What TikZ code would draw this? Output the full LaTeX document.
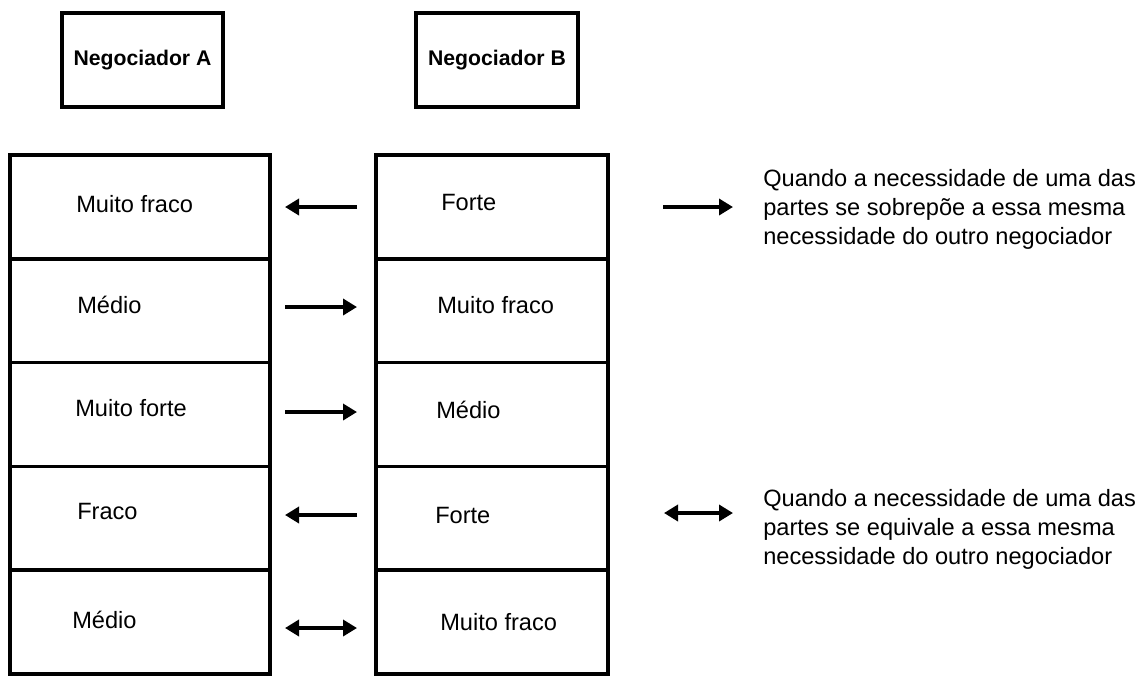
\documentclass[tikz,border=0pt]{standalone}
\usepackage{fontspec}
\setmainfont{Liberation Sans}
\usetikzlibrary{arrows.meta}
\begin{document}
\begin{tikzpicture}[x=0.75pt,y=-0.75pt,
 hdr/.style={draw, line width=2.8pt, minimum width=121pt, minimum height=70.5pt, inner sep=0pt, outer sep=0pt, font=\fontsize{15.9}{19}\selectfont\bfseries},
 cellA/.style={draw, line width=2.6pt, minimum width=195pt, minimum height=77.85pt, inner sep=0pt, outer sep=0pt},
 cellB/.style={cellA, minimum width=174pt},
 lbl/.style={anchor=west, inner sep=0pt, font=\fontsize{17.7}{21}\selectfont},
 note/.style={anchor=north west, inner sep=0pt, align=left, font=\fontsize{17.7}{21.75}\selectfont},
 tip/.tip={Triangle[length=10.5pt,width=12pt]},
 arr/.style={line width=3pt, -tip},
 darr/.style={line width=3pt, tip-tip}]
\useasboundingbox (0,0) rectangle (1137,676);

% headers
\node[hdr] (hA) at (142.5,60) {Negociador A};
\node[hdr] (hB) at (497,60) {Negociador B};

% cells
\node[cellA] (a1) at (140,206.9) {};
\node[cellA] (a2) at (140,310.7) {};
\node[cellA] (a3) at (140,414.5) {};
\node[cellA] (a4) at (140,518.3) {};
\node[cellA] (a5) at (140,622.1) {};
\node[cellB] (b1) at (492,206.9) {};
\node[cellB] (b2) at (492,310.7) {};
\node[cellB] (b3) at (492,414.5) {};
\node[cellB] (b4) at (492,518.3) {};
\node[cellB] (b5) at (492,622.1) {};

% labels
\node[lbl] (ta1) at (76,204) {Muito fraco};
\node[lbl] (ta2) at (77,305) {Médio};
\node[lbl] (ta3) at (75,408) {Muito forte};
\node[lbl] (ta4) at (77,511) {Fraco};
\node[lbl] (ta5) at (72,620) {Médio};
\node[lbl] (tb1) at (441,202) {Forte};
\node[lbl] (tb2) at (437,305) {Muito fraco};
\node[lbl] (tb3) at (436,410) {Médio};
\node[lbl] (tb4) at (435,515) {Forte};
\node[lbl] (tb5) at (440,622) {Muito fraco};

% arrow end points
\coordinate (l1) at (285,207); \coordinate (r1) at (357,207);
\coordinate (l2) at (285,307); \coordinate (r2) at (357,307);
\coordinate (l3) at (285,412); \coordinate (r3) at (357,412);
\coordinate (l4) at (285,515); \coordinate (r4) at (357,515);
\coordinate (l5) at (285,628); \coordinate (r5) at (357,628);
\coordinate (kl1) at (663,207); \coordinate (kr1) at (733,207);
\coordinate (kl2) at (664,513); \coordinate (kr2) at (733,513);

\draw[arr] (r1) -- (l1);
\draw[arr] (l2) -- (r2);
\draw[arr] (l3) -- (r3);
\draw[arr] (r4) -- (l4);
\draw[darr] (l5) -- (r5);
\draw[arr] (kl1) -- (kr1);
\draw[darr] (kl2) -- (kr2);

% notes
\node[note] (n1) at (763,169) {Quando a necessidade de uma das\\partes se sobrepõe a essa mesma\\necessidade do outro negociador};
\node[note] (n2) at (763,489) {Quando a necessidade de uma das\\partes se equivale a essa mesma\\necessidade do outro negociador};
\end{tikzpicture}
\end{document}
